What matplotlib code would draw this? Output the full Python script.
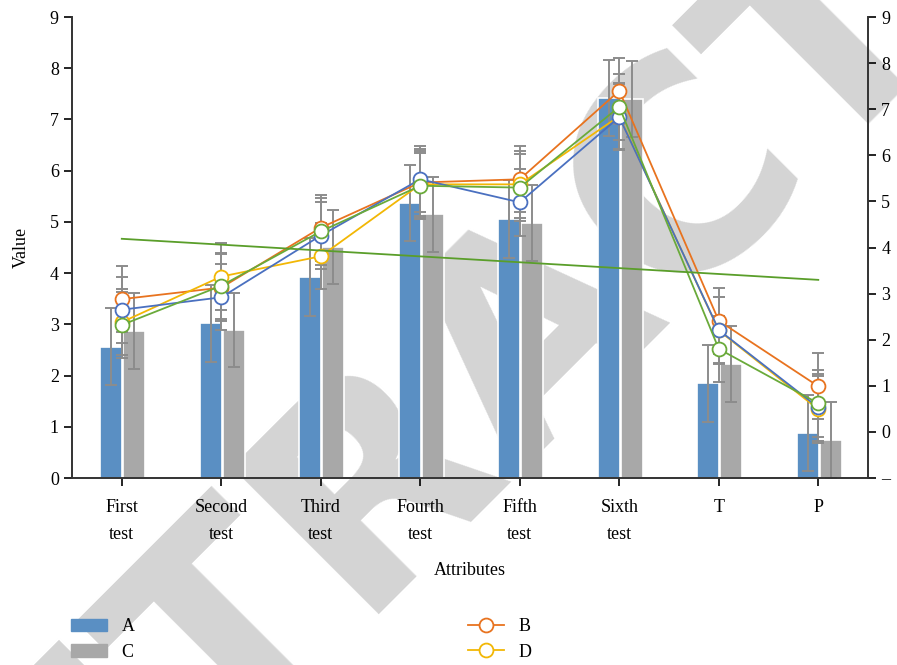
import numpy as np
import matplotlib
matplotlib.use("Agg")
import matplotlib.pyplot as plt
from matplotlib.lines import Line2D
from matplotlib.patches import Patch

plt.rcParams["font.family"] = ["Liberation Serif", "DejaVu Serif"]

# Data
categories = ["First\ntest", "Second\ntest", "Third\ntest", "Fourth\ntest",
              "Fifth\ntest", "Sixth\ntest", "T", "P"]

# bars (left axis)
a_vals = [2.56, 3.02, 3.92, 5.37, 5.06, 7.42, 1.85, 0.88]
a_err = [0.75, 0.75, 0.76, 0.75, 0.76, 0.75, 0.75, 0.75]
c_vals = [2.87, 2.89, 4.51, 5.15, 4.98, 7.40, 2.23, 0.74]
c_err = [0.74, 0.73, 0.73, 0.73, 0.74, 0.74, 0.74, 0.74]

# lines (right axis)
b_vals = [2.88, 3.13, 4.43, 5.41, 5.48, 7.40, 2.41, 0.99]
d_vals = [2.38, 3.37, 3.81, 5.37, 5.37, 6.85, 2.20, 0.49]
e_vals = [2.65, 2.92, 4.26, 5.48, 4.98, 6.83, 2.21, 0.53]
f_vals = [2.32, 3.17, 4.35, 5.34, 5.30, 7.05, 1.80, 0.62]
line_err = 0.72

col_a = "#5A8FC3"
col_c = "#A8A8A8"
col_b = "#E8731F"
col_d = "#F2B705"
col_e = "#4A70C0"
col_f = "#6AAA3A"
col_err = "#8C8C8C"

x = np.arange(len(categories))

fig = plt.figure(figsize=(8.97, 6.65), dpi=100)
ax = fig.add_axes([0.0803, 0.2812, 0.8874, 0.6932])
ax.set_facecolor("none")

# watermark behind everything
fig.text(0.595, 0.515, "RETRACTED", rotation=45, fontsize=205, color="#d4d4d4",
         ha="center", va="center", family="DejaVu Sans", fontweight="bold",
         zorder=-5)

w = 0.22
ax.bar(x - 0.105, a_vals, w, color=col_a, edgecolor="white", linewidth=1.2)
ax.bar(x + 0.125, c_vals, w, color=col_c, edgecolor="white", linewidth=1.2)
ax.errorbar(x - 0.105, a_vals, yerr=a_err, fmt="none", ecolor=col_err,
            elinewidth=1.4, capsize=4.5, capthick=1.4)
ax.errorbar(x + 0.125, c_vals, yerr=c_err, fmt="none", ecolor=col_err,
            elinewidth=1.4, capsize=4.5, capthick=1.4)

ax.set_xlim(-0.5, 7.5)
ax.set_ylim(0, 9)
ax.set_yticks(range(0, 10))
ax.set_xticks(x)
ax.set_xticklabels(categories, fontsize=13, linespacing=1.75)
ax.tick_params(axis="y", labelsize=13, length=6, width=1.2, direction="out")
ax.tick_params(axis="x", length=6, width=1.2, direction="out", pad=9)
ax.set_ylabel("Value", fontsize=13, labelpad=14)
ax.set_xlabel("Attributes", fontsize=13, labelpad=14)
for s in ["top", "right"]:
    ax.spines[s].set_visible(False)
ax.spines["left"].set_linewidth(1.4)
ax.spines["bottom"].set_linewidth(1.4)
ax.spines["left"].set_color("#333333")
ax.spines["bottom"].set_color("#333333")

# line series on the secondary axis
ax2 = ax.twinx()
ax2.set_ylim(-1, 9)
ax2.set_yticks(range(-1, 10))
ax2.set_yticklabels(["–"] + [str(i) for i in range(0, 10)], fontsize=13)
ax2.tick_params(axis="y", length=6, width=1.2, direction="out")
for s in ["top", "left", "bottom"]:
    ax2.spines[s].set_visible(False)
ax2.spines["right"].set_linewidth(1.4)
ax2.spines["right"].set_color("#333333")

for vals in [b_vals, d_vals, e_vals, f_vals]:
    ax2.errorbar(x, vals, yerr=line_err, fmt="none", ecolor=col_err,
                 elinewidth=1.4, capsize=4, capthick=1.4)

for vals, col in [(b_vals, col_b), (d_vals, col_d), (e_vals, col_e), (f_vals, col_f)]:
    ax2.plot(x, vals, color=col, linewidth=1.3, marker="o", markersize=10,
             markerfacecolor="white", markeredgecolor=col, markeredgewidth=1.3)

# linear trend of the green series
coef = np.polyfit(x, f_vals, 1)
ax2.plot(x, np.polyval(coef, x), color="#5A9E2A", linewidth=1.3)

# legend, two columns
h1 = [Patch(color=col_a), Patch(color=col_c)]
leg1 = fig.legend(h1, ["A", "C"], loc="upper left", bbox_to_anchor=(0.079, 0.07),
                  frameon=False, fontsize=13, handlelength=2.0, handleheight=0.7,
                  handletextpad=0.8, labelspacing=0.45, borderpad=0, borderaxespad=0)
h2 = [Line2D([], [], color=col_b, marker="o", markersize=10, markerfacecolor="white",
             markeredgewidth=1.3, linewidth=1.3),
      Line2D([], [], color=col_d, marker="o", markersize=10, markerfacecolor="white",
             markeredgewidth=1.3, linewidth=1.3)]
leg2 = fig.legend(h2, ["B", "D"], loc="upper left", bbox_to_anchor=(0.522, 0.07),
                  frameon=False, fontsize=13, handlelength=2.0,
                  handletextpad=0.8, labelspacing=0.45, borderpad=0, borderaxespad=0)

fig.savefig("out.png", dpi=100)
